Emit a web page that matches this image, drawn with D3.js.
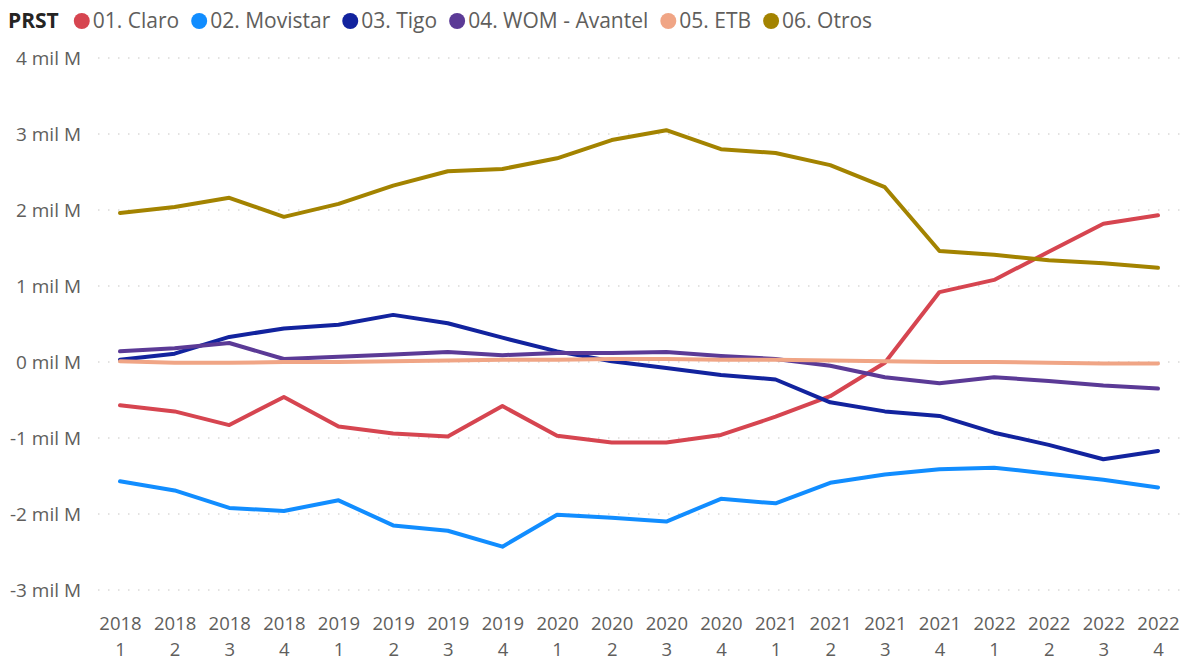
<!DOCTYPE html>
<html><head><meta charset="utf-8">
<script src="https://cdn.jsdelivr.net/npm/d3@7"></script>
<style>
body{margin:0;background:#fff;}
svg text{font-family:"Segoe UI","Open Sans","Noto Sans",sans-serif;}
</style></head>
<body><svg id="c" width="1185" height="660"></svg>
<script>
const years = ["2018","2018","2018","2018","2019","2019","2019","2019","2020","2020","2020","2020","2021","2021","2021","2021","2022","2022","2022","2022"];
const quarters = ["1","2","3","4","1","2","3","4","1","2","3","4","1","2","3","4","1","2","3","4"];
const categories = years.map((y,i)=>y+"-"+quarters[i]);
const seriesNames = ["01. Claro","02. Movistar","03. Tigo","04. WOM - Avantel","05. ETB","06. Otros"];
const seriesColors = ["#D64550","#118DFF","#12239E","#5B3A96","#F0A585","#A38300"];
const claro =    [-0.57,-0.65,-0.83,-0.46,-0.85,-0.94,-0.98,-0.58,-0.97,-1.06,-1.06,-0.96,-0.72,-0.45,-0.01,0.92,1.08,1.45,1.82,1.93];
const movistar = [-1.57,-1.69,-1.92,-1.96,-1.82,-2.15,-2.22,-2.43,-2.01,-2.05,-2.10,-1.80,-1.86,-1.59,-1.48,-1.41,-1.39,-1.47,-1.55,-1.65];
const tigo =     [0.03,0.11,0.33,0.44,0.49,0.62,0.51,0.32,0.14,0.01,-0.08,-0.17,-0.23,-0.53,-0.65,-0.71,-0.93,-1.09,-1.28,-1.17];
const wom =      [0.14,0.18,0.25,0.04,0.07,0.10,0.13,0.09,0.12,0.12,0.13,0.08,0.04,-0.05,-0.20,-0.28,-0.20,-0.25,-0.31,-0.35];
const etb =      [0.01,-0.01,-0.01,0.00,0.00,0.01,0.02,0.03,0.03,0.04,0.04,0.03,0.03,0.02,0.01,0.00,0.00,-0.01,-0.02,-0.02];
const otros =    [1.96,2.04,2.16,1.91,2.08,2.32,2.51,2.54,2.68,2.92,3.05,2.80,2.75,2.59,2.30,1.46,1.41,1.34,1.30,1.24];
const yTicks = [-3,-2,-1,0,1,2,3,4];
const yTickLabels = ["-3 mil M","-2 mil M","-1 mil M","0 mil M","1 mil M","2 mil M","3 mil M","4 mil M"];
const legendTitle = "PRST";

const allSeries = [claro,movistar,tigo,wom,etb,otros];
const svg = d3.select("#c");
const textColor = "#605E5C";

const x = d3.scalePoint().domain(categories).range([120,1158]);
const y = d3.scaleLinear().domain([-3,4]).range([590,58]);

// gridlines
svg.append("g").selectAll("line").data(yTicks).join("line")
  .attr("x1",98).attr("x2",1182)
  .attr("y1",d=>y(d)).attr("y2",d=>y(d))
  .attr("stroke","#C8C6C4").attr("stroke-width",1.2)
  .attr("stroke-dasharray","1.5,8.5");

// y axis labels
const yAxis = d3.axisLeft(y).tickValues(yTicks).tickFormat(d=>yTickLabels[yTicks.indexOf(d)]).tickSize(0).tickPadding(0);
const ya = svg.append("g").attr("transform","translate(81,0)").call(yAxis);
ya.select(".domain").remove();
ya.selectAll("text").attr("fill",textColor).style("font-size","19px").attr("dy","0.36em");

// x axis labels
const xAxis = d3.axisBottom(x).tickSize(0).tickFormat(()=> "");
const xa = svg.append("g").attr("transform","translate(0,600)").call(xAxis);
xa.select(".domain").remove();
xa.selectAll(".tick").each(function(d,i){
  const t = d3.select(this).select("text");
  t.attr("fill",textColor).style("font-size","18.5px").attr("y",0).attr("dy",null);
  t.append("tspan").attr("x",0).attr("y",30).text(years[i]);
  t.append("tspan").attr("x",0).attr("y",56).text(quarters[i]);
});

// lines
const line = d3.line().x((d,i)=>x(categories[i])).y(d=>y(d));
svg.append("g").selectAll("path").data(allSeries).join("path")
  .attr("d",d=>line(d))
  .attr("fill","none")
  .attr("stroke",(d,i)=>seriesColors[i])
  .attr("stroke-width",4)
  .attr("stroke-linejoin","round")
  .attr("stroke-linecap","round");

// legend
const lg = svg.append("g");
const title = lg.append("text").attr("x",8).attr("y",28).text(legendTitle)
  .attr("fill","#252423").style("font-size","21px").style("font-weight","bold");
let cx = 8 + title.node().getComputedTextLength() + 15;
seriesNames.forEach((n,i)=>{
  lg.append("circle").attr("cx",cx+8).attr("cy",21).attr("r",8).attr("fill",seriesColors[i]);
  const t = lg.append("text").attr("x",cx+19).attr("y",28).text(n)
    .attr("fill",textColor).style("font-size","21px");
  cx = cx + 19 + t.node().getComputedTextLength() + 12;
});
</script></body></html>
